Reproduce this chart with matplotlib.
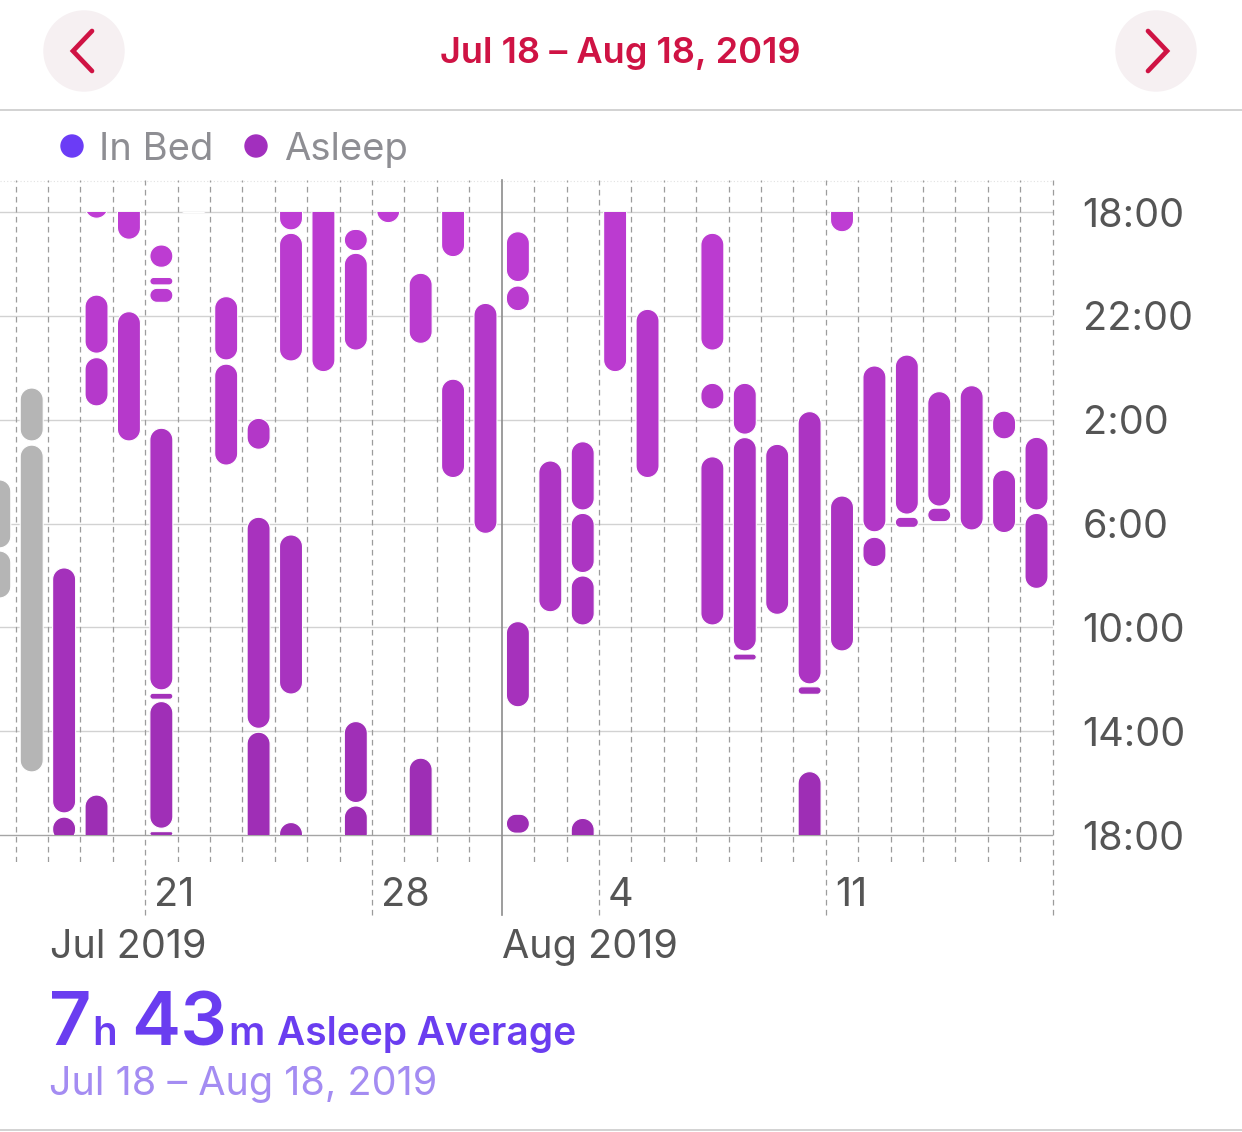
import datetime as dt

import numpy as np
import matplotlib
matplotlib.use("Agg")
import matplotlib.pyplot as plt
import matplotlib.dates as mdates
from matplotlib.patches import Polygon, Rectangle, Circle
from matplotlib.colors import to_rgb

plt.rcParams['font.family'] = ['Inter', 'DejaVu Sans']

W, H = 1242, 1132

# Sleep segments, hours after 18:00 on the evening of the column's date
# (end > 24 means the segment runs into the next column)
ASLEEP_DATES = [
    '2019-07-18', '2019-07-18',
    '2019-07-19', '2019-07-19', '2019-07-19',
    '2019-07-20',
    '2019-07-21', '2019-07-21', '2019-07-21', '2019-07-21', '2019-07-21', '2019-07-21', '2019-07-21',
    '2019-07-23', '2019-07-23',
    '2019-07-24', '2019-07-24', '2019-07-24',
    '2019-07-25', '2019-07-25', '2019-07-25',
    '2019-07-27', '2019-07-27', '2019-07-27', '2019-07-27',
    '2019-07-29', '2019-07-29',
    '2019-07-30',
    '2019-07-31',
    '2019-08-01', '2019-08-01', '2019-08-01', '2019-08-01',
    '2019-08-02',
    '2019-08-03', '2019-08-03', '2019-08-03', '2019-08-03',
    '2019-08-05',
    '2019-08-07', '2019-08-07', '2019-08-07',
    '2019-08-08', '2019-08-08', '2019-08-08',
    '2019-08-09',
    '2019-08-10', '2019-08-10', '2019-08-10',
    '2019-08-11',
    '2019-08-12', '2019-08-12',
    '2019-08-13', '2019-08-13',
    '2019-08-14', '2019-08-14',
    '2019-08-15',
    '2019-08-16', '2019-08-16',
    '2019-08-17', '2019-08-17',
]
ASLEEP_START = [
    13.71, 23.31,
    3.20, 5.61, 22.46,
    3.84,
    1.27, 2.52, 2.94, 8.33, 18.54, 18.86, 23.87,
    3.26, 5.86,
    7.95, 11.76, 20.04,
    0.82, 12.44, 23.52,
    0.67, 1.59, 19.63, 22.88,
    2.36, 21.04,
    6.44,
    3.52,
    0.76, 2.85, 15.78, 23.20,
    9.59,
    8.85, 11.61, 14.02, 23.36,
    3.75,
    0.82, 6.60, 9.43,
    6.60, 8.69, 17.03,
    8.95,
    7.69, 18.29, 21.56,
    10.94,
    5.93, 12.53,
    5.51, 11.76,
    6.92, 11.41,
    6.69,
    7.67, 9.94,
    8.68, 11.61,
]
ASLEEP_END = [
    23.15, 24.24,
    5.44, 7.47, 25.05,
    8.82,
    2.13, 2.81, 3.48, 18.41, 18.77, 23.74, 24.02,
    5.70, 9.75,
    9.14, 19.89, 24.69,
    5.74, 18.57, 30.15,
    1.49, 5.32, 22.75, 24.41,
    5.06, 25.72,
    10.23,
    12.38,
    2.68, 3.80, 19.06, 23.93,
    15.40,
    11.48, 13.89, 15.91, 30.15,
    10.23,
    5.32, 7.59, 15.91,
    8.56, 16.91, 17.26,
    15.50,
    18.18, 18.58, 24.76,
    16.91,
    12.32, 13.66,
    11.64, 12.15,
    11.33, 11.93,
    12.25,
    8.74, 12.35,
    11.48, 14.50,
]

# days before the selected range, shown greyed out
GREY_DATES = ['2019-07-16', '2019-07-16', '2019-07-17', '2019-07-17']
GREY_START = [10.32, 13.06, 6.78, 8.98]
GREY_END = [12.94, 14.87, 8.82, 21.57]

HOUR_TICKS = [0, 4, 8, 12, 16, 20, 24]
HOUR_LABELS = ['18:00', '22:00', '2:00', '6:00', '10:00', '14:00', '18:00']
WEEK_DATES = ['2019-07-21', '2019-07-28', '2019-08-04', '2019-08-11']
WEEK_LABELS = ['21', '28', '4', '11']

RED = '#CF1344'
TICK_GREY = '#555555'
TOP_COL = np.array(to_rgb('#BF3DD4'))
BOT_COL = np.array(to_rgb('#9C2DB3'))


def dnum(s):
    return mdates.date2num(dt.datetime.strptime(s, '%Y-%m-%d'))


fig = plt.figure(figsize=(W / 100, H / 100), dpi=100)
ax = fig.add_axes([0, (H - 862) / H, 1052.7 / W, 682 / H])
x_lo = mdates.date2num(dt.datetime(2019, 7, 16, 12, 31))
x_hi = mdates.date2num(dt.datetime(2019, 8, 18))
ax.set_xlim(x_lo, x_hi)
ax.set_ylim(25.04, -1.233)

sx = ax.bbox.width / (x_hi - x_lo)      # px per day
sy = ax.bbox.height / (25.04 + 1.233)   # px per hour

clip_rect = Rectangle((x_lo, 0), x_hi - x_lo, 24, transform=ax.transData)


def capsule(xc, y0, y1, color, width=0.71):
    """Rounded bar whose corner radius is round in pixel space"""
    r = min(width * sx, (y1 - y0) * sy) / 2
    rx, ry = r / sx, r / sy
    L, R = xc - width / 2, xc + width / 2
    pts = []
    centres = [(R - rx, y1 - ry), (L + rx, y1 - ry), (L + rx, y0 + ry), (R - rx, y0 + ry)]
    for k, (cx, cy) in enumerate(centres):
        th = np.linspace(k * np.pi / 2, (k + 1) * np.pi / 2, 12)
        pts.append(np.column_stack([cx + rx * np.cos(th), cy + ry * np.sin(th)]))
    poly = Polygon(np.vstack(pts), closed=True, facecolor=color,
                   edgecolor='white', linewidth=0.8, zorder=3)
    ax.add_patch(poly)
    poly.set_clip_path(clip_rect)


def grad(y0, y1):
    f = np.clip((max(y0, 0) + min(y1, 24)) / 48, 0, 1)
    return TOP_COL * (1 - f) + BOT_COL * f


# grid
for h in HOUR_TICKS:
    ax.axhline(h, color='#A5A5A5' if h == 24 else '#D2D2D2', lw=1.0, zorder=0)
ax.axhline(-1.2, color='#E2E2E2', lw=0.8, ls=(0, (1, 2)), zorder=0)

week_nums = [dnum(d) for d in WEEK_DATES]
aug1 = dnum('2019-08-01')
for x in np.arange(dnum('2019-07-17'), x_hi + 0.5, 1.0):
    if abs(x - aug1) < 1e-6:
        ax.axvline(x, ymin=-0.078, color='#8C8C8C', lw=1.2, zorder=1, clip_on=False)
    elif any(abs(x - w) < 1e-6 for w in week_nums) or abs(x - x_hi) < 1e-6:
        ax.axvline(x, ymin=-0.078, color='#9C9C9C', lw=0.9, ls=(0, (4.5, 3.5)),
                   zorder=1, clip_on=False)
    else:
        ax.axvline(x, color='#9C9C9C', lw=0.9, ls=(0, (4.5, 3.5)), zorder=1)

# bars
for d, s, e in zip(GREY_DATES, GREY_START, GREY_END):
    capsule(dnum(d) + 0.5, s, e, '#B5B5B5')

for d, s, e in zip(ASLEEP_DATES, ASLEEP_START, ASLEEP_END):
    xc = dnum(d) + 0.5
    capsule(xc, s, e, grad(s, e))
    if e > 24:
        capsule(xc + 1, s - 24, e - 24, grad(s - 24, e - 24))

# axes cosmetics
for sp in ax.spines.values():
    sp.set_visible(False)
ax.set_xticks([])
ax.set_yticks(HOUR_TICKS, HOUR_LABELS)
ax.yaxis.tick_right()
ax.tick_params(axis='y', length=0, pad=21.5, labelsize=28.5, labelcolor=TICK_GREY)

for x, lab in zip(week_nums, WEEK_LABELS):
    ax.annotate(lab, xy=(x, 0), xycoords=('data', 'axes fraction'),
                xytext=(6.5, -31.7), textcoords='offset points',
                ha='left', va='baseline', fontsize=28.5, color=TICK_GREY)
ax.annotate('Jul 2019', xy=(dnum('2019-07-18'), 0), xycoords=('data', 'axes fraction'),
            xytext=(1.2, -69), textcoords='offset points',
            ha='left', va='baseline', fontsize=28.5, color=TICK_GREY)
ax.annotate('Aug 2019', xy=(aug1, 0), xycoords=('data', 'axes fraction'),
            xytext=(0.5, -69), textcoords='offset points',
            ha='left', va='baseline', fontsize=28.5, color=TICK_GREY)

# header, legend and summary, drawn on a pixel-sized overlay
ov = fig.add_axes([0, 0, 1, 1])
ov.set_xlim(0, W)
ov.set_ylim(H, 0)
ov.axis('off')

for cx in (84, 1156):
    ov.add_patch(Circle((cx, 51), 40, color='#F6F0F2', zorder=1))
ov.plot([92, 73, 92], [31, 51, 71], color=RED, lw=3.4,
        solid_capstyle='round', solid_joinstyle='miter', zorder=2)
ov.plot([1148, 1167, 1148], [31, 51, 71], color=RED, lw=3.4,
        solid_capstyle='round', solid_joinstyle='miter', zorder=2)
ov.text(620, 63, 'Jul 18 – Aug 18, 2019', ha='center', va='baseline',
        fontsize=26, color=RED, fontweight='semibold')
ov.plot([0, W], [110, 110], color='#CFCFCF', lw=1.3)

ov.add_patch(Circle((72, 146), 11, color='#6B3CF6'))
ov.text(99, 160, 'In Bed', ha='left', va='baseline', fontsize=27.5, color='#8E8E93')
ov.add_patch(Circle((256, 146), 11, color='#A22FBE'))
ov.text(284, 160, 'Asleep', ha='left', va='baseline', fontsize=27.5, color='#8E8E93')

VIOLET = '#6A3DF0'
ov.text(49, 1045, '7', ha='left', va='baseline', fontsize=53, color=VIOLET, fontweight='semibold')
ov.text(92, 1045, 'h', ha='left', va='baseline', fontsize=29, color=VIOLET, fontweight='semibold')
ov.text(131, 1045, '43', ha='left', va='baseline', fontsize=53, color=VIOLET, fontweight='semibold')
ov.text(228, 1045, 'm', ha='left', va='baseline', fontsize=29, color=VIOLET, fontweight='semibold')
ov.text(277, 1045, 'Asleep Average', ha='left', va='baseline', fontsize=28,
        color=VIOLET, fontweight='semibold')
ov.text(49, 1095, 'Jul 18 – Aug 18, 2019', ha='left', va='baseline', fontsize=28.5,
        color='#A48CF2')
ov.plot([0, W], [1130, 1130], color='#CFCFCF', lw=1.3)

fig.savefig('out.png', dpi=100, facecolor='white')
